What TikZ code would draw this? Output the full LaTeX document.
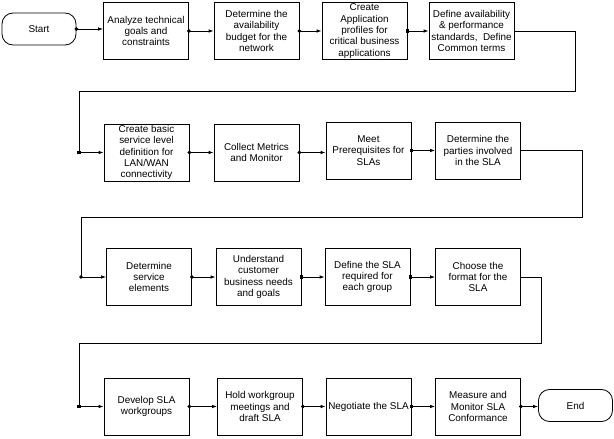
\documentclass[tikz,border=0pt]{standalone}
\usepackage{fontspec}
\setmainfont{Liberation Sans}
\usetikzlibrary{arrows.meta, positioning, calc}

\begin{document}
\begin{tikzpicture}[x=1pt, y=-1pt,
    box/.style={draw, line width=0.8pt, minimum width=85pt, minimum height=57pt, inner sep=0pt,
        align=center, font=\fontsize{9.9}{11.3}\selectfont},
    term/.style={draw, line width=0.8pt, rounded corners=11pt, minimum width=74pt, minimum height=32pt,
        inner sep=0pt, font=\fontsize{9.9}{11.3}\selectfont},
    link/.style={line width=0.8pt},
    flow/.style={line width=0.8pt, -{Latex[length=5pt, width=3.5pt]}},
    dotc/.style={{Circle[length=3.5pt]}-{Latex[length=5pt, width=3.5pt]}, shorten <=-1.75pt},
    dots/.style={{Square[length=3.5pt]}-{Latex[length=5pt, width=3.5pt]}, shorten <=-1.75pt}]
    \useasboundingbox (0,0) rectangle (614,439);
    % row 1
    \node[term] (st) at (39,29) {Start};
    \node[box] (a1) at (146,31) {Analyze technical\\goals and\\constraints};
    \node[box] (a2) at (256.5,31) {Determine the\\availability\\budget for the\\network};
    \node[box] (a3) at (364.5,31) {Create\\Application\\profiles for\\critical business\\applications};
    \node[box] (a4) at (471.5,31) {Define availability\\\& performance\\standards,~ Define\\Common terms};
    % row 2
    \node[box] (b1) at (146.5,152.5) {Create basic\\service level\\definition for\\LAN/WAN\\connectivity};
    \node[box] (b2) at (256.5,152.5) {Collect Metrics\\and Monitor};
    \node[box] (b3) at (368.5,150.5) {Meet\\Prerequisites for\\SLAs};
    \node[box] (b4) at (478,150.5) {Determine the\\parties involved\\in the SLA};
    % row 3
    \node[box] (c1) at (149,277) {Determine\\service\\elements};
    \node[box] (c2) at (258.5,277) {Understand\\customer\\business needs\\and goals};
    \node[box] (c3) at (367.5,277) {Define the SLA\\required for\\each group};
    \node[box] (c4) at (478,277) {Choose the\\format for the\\SLA};
    % row 4
    \node[box] (d1) at (146.5,406.5) {Develop SLA\\workgroups};
    \node[box] (d2) at (260,406.5) {Hold workgroup\\meetings and\\draft SLA};
    \node[box] (d3) at (368.5,406.5) {Negotiate the SLA};
    \node[box] (d4) at (478,406.5) {Measure and\\Monitor SLA\\Conformance};
    \node[term] (en) at (575.5,405.5) {End};
    % bends of the wrap-around lines
    \coordinate (r1) at (575,91);
    \coordinate (l1) at (79,91);
    \coordinate (r2) at (582,217);
    \coordinate (l2) at (81,217);
    \coordinate (r3) at (541,343);
    \coordinate (l3) at (79,343);
    % steps within a row
    \foreach \a/\b/\m in {st/a1/dotc, a1/a2/dotc, a2/a3/dotc, a3/a4/dots,
        b1/b2/dotc, b2/b3/dotc, b3/b4/dots,
        c1/c2/dotc, c2/c3/dots, c3/c4/dots,
        d1/d2/dotc, d2/d3/dotc, d3/d4/dots, d4/en/dotc} {
        \draw[flow, \m] (\a.east) -- (\a.east -| \b.west);
    }
    % from one row to the next
    \draw[link] (a4.east) -- (a4.east -| r1) -- (r1) -- (l1) -- (l1 |- b1.west);
    \draw[flow, dots] (l1 |- b1.west) -- (b1.west);
    \draw[link] (b4.east) -- (b4.east -| r2) -- (r2) -- (l2) -- (l2 |- c1.west);
    \draw[flow, dotc] (l2 |- c1.west) -- (c1.west);
    \draw[link] (c4.east) -- (c4.east -| r3) -- (r3) -- (l3) -- (l3 |- d1.west);
    \draw[flow, dots] (l3 |- d1.west) -- (d1.west);
\end{tikzpicture}
\end{document}
